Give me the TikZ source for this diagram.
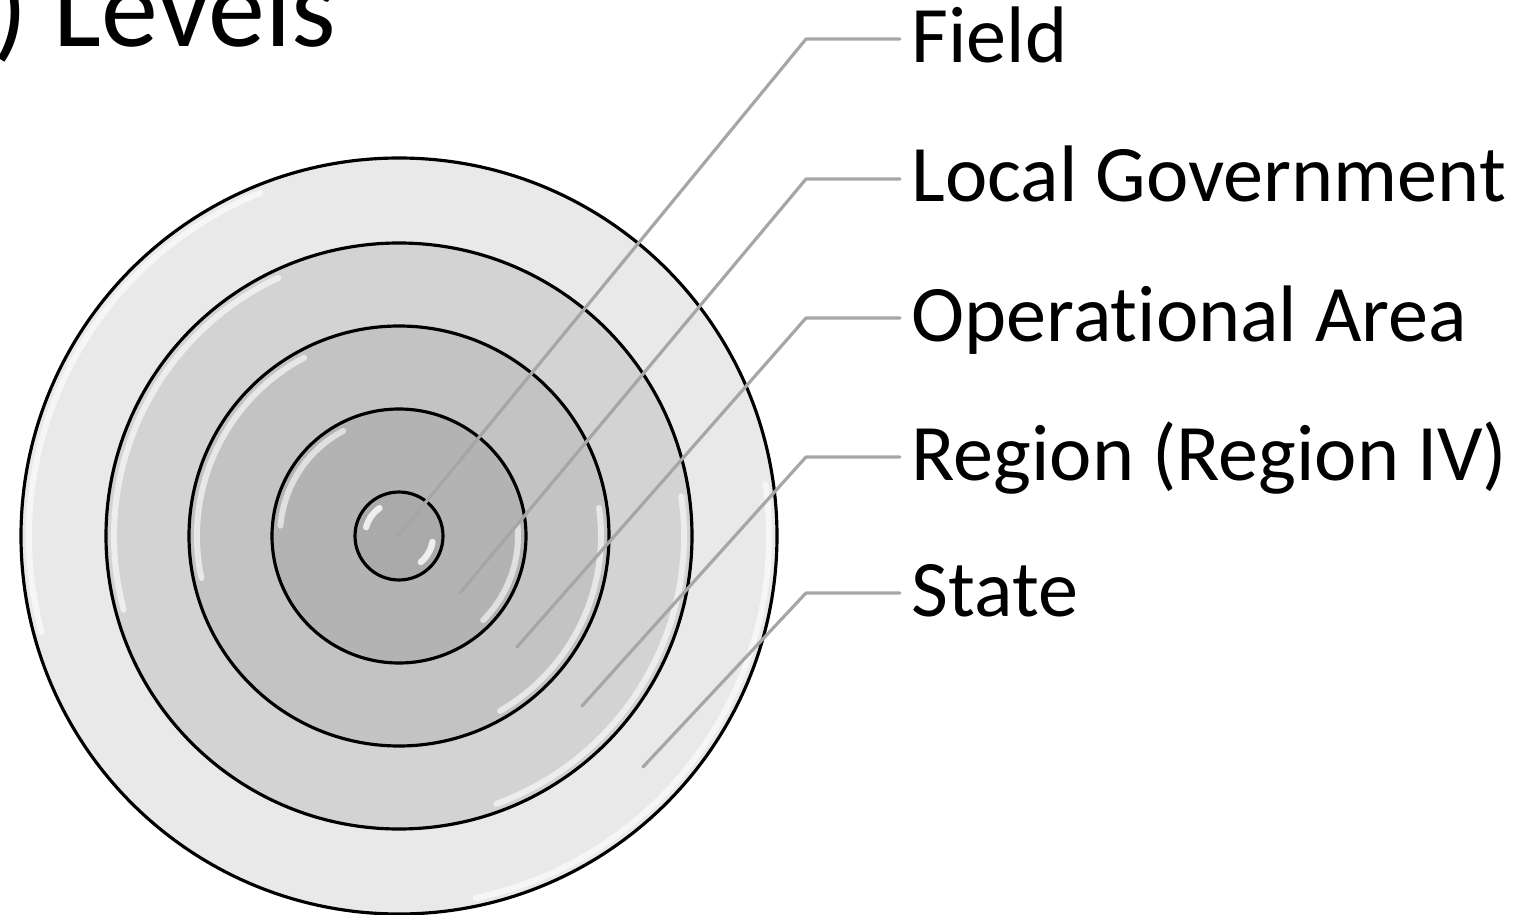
\documentclass[tikz,border=0pt]{standalone}
\usepackage{fontspec}
\setmainfont{Carlito}[Ligatures=NoCommon]
\usetikzlibrary{calc, positioning}

\begin{document}
\begin{tikzpicture}[
    x=0.01cm, y=0.01cm,
    every node/.style={font=\fontsize{22.8pt}{27pt}\selectfont, inner sep=0pt},
]

% ---------------------------------------------------------------- colours
\definecolor{ring1}{HTML}{E9E9E9}   % state
\definecolor{ring2}{HTML}{D3D3D3}   % region
\definecolor{ring3}{HTML}{C3C3C3}   % operational area
\definecolor{ring4}{HTML}{B3B3B3}   % local government
\definecolor{ring5}{HTML}{AAAAAA}   % field
\definecolor{leadcolor}{HTML}{A6A6A6}

\tikzset{
    rim/.style={draw=black, line width=0.9pt},
    hilite/.style={white, line width=1.7pt, opacity=0.6, line cap=round},
    leader/.style={leadcolor, line width=0.9pt, line cap=round, line join=round},
    lbl/.style={anchor=base west, text=black},
}

\useasboundingbox (0,0) rectangle (1529,914);

% ================================================================
% Five rings round one centre, radii 378, 293, 210, 127, 44
% ================================================================
\coordinate (ctr) at (399,378);

\draw[rim, fill=ring1] (ctr) circle (378);
\draw[hilite] ($(ctr)+(112:370)$) arc (112:195:370);
\draw[hilite] ($(ctr)+(-78:370)$) arc (-78:8:370);

\draw[rim, fill=ring2] (ctr) circle (293);
\draw[hilite] ($(ctr)+(115:285)$) arc (115:195:285);
\draw[hilite] ($(ctr)+(-70:285)$) arc (-70:8:285);

\draw[rim, fill=ring3] (ctr) circle (210);
\draw[hilite] ($(ctr)+(118:202)$) arc (118:192:202);
\draw[hilite] ($(ctr)+(-60:202)$) arc (-60:8:202);

\draw[rim, fill=ring4] (ctr) circle (127);
\draw[hilite] ($(ctr)+(118:119)$) arc (118:175:119);
\draw[hilite] ($(ctr)+(-45:119)$) arc (-45:5:119);

\draw[rim, fill=ring5] (ctr) circle (44);
\draw[hilite, line width=1.8pt, opacity=0.8] ($(ctr)+(125:34)$) arc (125:165:34);
\draw[hilite, line width=1.8pt, opacity=0.8] ($(ctr)+(-50:34)$) arc (-50:-10:34);

% ----------------------------------------------------------------------
% heading, cut off at the top left
% ----------------------------------------------------------------------
\node[font=\fontsize{32.4pt}{38pt}\selectfont, anchor=base west] (title)
    at (-7,868) {) Levels};

% ----------------------------------------------------------------------
% labels and their leaders
%   knee at x = 806, leader stops 11 short of the text
% ----------------------------------------------------------------------
\node[lbl] (field) at (911,852) {Field};
\node[lbl] (local) at (911,712) {Local Government};
\node[lbl] (oparea) at (911,573) {Operat\kern0pt ional Area};
\node[lbl] (region) at (911,434) {Region (Region IV)};
\node[lbl] (state) at (911,298) {State};

\coordinate (fieldpt) at (398,378);
\coordinate (localpt) at (460,321);
\coordinate (opareapt) at (517,267);
\coordinate (regionpt) at (582,208);
\coordinate (statept) at (643,147);

\draw[leader] ($(field.base west)+(-11,23)$) -- ++(-94,0) -- (fieldpt);
\draw[leader] ($(local.base west)+(-11,23)$) -- ++(-94,0) -- (localpt);
\draw[leader] ($(oparea.base west)+(-11,23)$) -- ++(-94,0) -- (opareapt);
\draw[leader] ($(region.base west)+(-11,23)$) -- ++(-94,0) -- (regionpt);
\draw[leader] ($(state.base west)+(-11,23)$) -- ++(-94,0) -- (statept);

\end{tikzpicture}
\end{document}
